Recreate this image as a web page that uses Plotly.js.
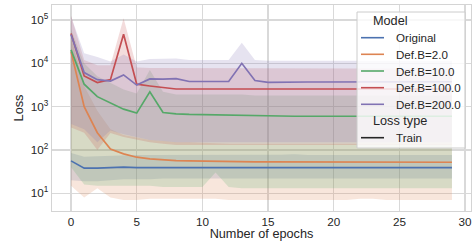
<!DOCTYPE html>
<html><head><meta charset="utf-8">
<script src="https://cdn.plot.ly/plotly-3.0.1.min.js"></script>
<style>html,body{margin:0;padding:0;background:#fff}#chart{width:472px;height:241px}#edge{position:absolute;left:440px;top:60px;width:32px;height:20px;background:rgba(255,255,255,0);pointer-events:none}</style>
</head><body><div id="chart"></div><div id="edge"></div>
<script>
const epochs = [0,1,2,3,4,5,6,7,8,9,10,11,12,13,14,15,16,17,18,19,20,21,22,23,24,25,26,27,28,29];
const seriesNames = ['Original','Def.B=2.0','Def.B=10.0','Def.B=100.0','Def.B=200.0'];
const colors = ['#4c72b0','#dd8452','#55a868','#c44e52','#8172b3'];
const bandColors = ['rgba(76,114,176,0.2)','rgba(221,132,82,0.2)','rgba(85,168,104,0.2)','rgba(196,78,82,0.2)','rgba(129,114,179,0.2)'];

const original    = [56,38,38,39,40,39,39,39,39,39,40,40,39,39,39,39,39,39,39,39,39,39,39,39,39,39,39,39,39,39];
const originalLo  = [20,19,19,20,21,21,21,22,22,22,22,22,22,22,22,22,22,22,22,22,22,22,22,22,22,22,22,22,22,22];
const originalHi  = [85,70,72,74,76,76,76,76,76,76,78,76,76,76,76,76,78,80,76,76,76,76,76,76,78,76,76,76,76,76];

const defB2   = [18600,1000,250,105,81,68,62,59,57,56,55,55,54,54,53,53,53,53,52,52,52,52,52,52,52,52,52,52,52,52];
const defB2Lo = [15,8,13,8,7,7,7.5,7.5,7.5,7.5,7.5,7.5,7,7,7,7,7,7,7,7,7,7,7.5,7.5,7,7,7,7,7,7];
const defB2Hi = [40000,3000,800,300,220,190,170,160,150,150,145,145,140,140,140,140,140,140,140,140,140,140,140,140,140,140,140,140,140,140];

const defB10   = [20400,3290,1700,1200,875,710,2200,730,680,660,650,650,645,640,620,610,605,600,600,600,600,600,600,600,600,600,600,600,600,600];
const defB10Lo = [40,16,15,15,15,15,15,14,14,14,14,30,14,13,13,13,13,13,13,13,13,13,13,13,13,13,13,13,13,13];
const defB10Hi = [60000,10000,5000,3500,2500,2000,7000,2200,1900,1900,1900,1900,1900,1900,1800,1800,1800,1800,1800,1800,1800,1800,1800,1800,1800,1800,1800,1800,1800,1800];

const defB100   = [49000,5100,3600,4200,47000,3300,3000,2750,2550,2550,2550,2550,2550,2550,2550,2550,2550,2550,2550,2550,2550,2550,2550,2550,2550,2550,2550,2550,2550,2550];
const defB100Lo = [330,250,100,245,200,170,150,140,130,130,130,130,130,130,130,130,130,130,130,130,130,130,130,130,130,130,130,130,130,130];
const defB100Hi = [125000,12000,9000,9000,110000,8000,7800,7800,7600,7500,7500,7500,7500,7500,7500,7500,7500,7500,7500,7500,7500,7500,7500,7500,7500,7500,7500,7500,7500,7500];

const defB200   = [46000,6100,4200,3900,5400,3150,4350,4300,4450,3800,3800,3800,3800,10000,4000,3650,3700,3700,3700,3700,3700,3700,3700,3700,3750,3750,3750,3750,3750,3750];
const defB200Lo = [400,300,150,280,230,200,170,160,150,150,150,150,150,150,150,150,150,150,150,150,150,150,150,150,150,150,150,150,150,150];
const defB200Hi = [120000,17000,14000,11000,16000,11000,12500,12500,13000,12000,12000,12000,12000,30000,12000,11500,11500,11500,11500,11500,11500,11500,11500,11500,11500,11500,11500,11500,11500,11500];

const xTickVals = [0,5,10,15,20,25,30];
const yTickVals = [10,100,1000,10000,100000];
const yTickText = ['10<sup>1</sup>','10<sup>2</sup>','10<sup>3</sup>','10<sup>4</sup>','10<sup>5</sup>'];
const legendTitles = ['Model','Loss type'];
const lossTypes = ['Train'];

const means = [original, defB2, defB10, defB100, defB200];
const lows  = [originalLo, defB2Lo, defB10Lo, defB100Lo, defB200Lo];
const highs = [originalHi, defB2Hi, defB10Hi, defB100Hi, defB200Hi];

const traces = [];
for (let i = 0; i < seriesNames.length; i++) {
  traces.push({x: epochs, y: highs[i], type: 'scatter', mode: 'lines', line: {width: 0, color: colors[i]}, showlegend: false, hoverinfo: 'skip'});
  traces.push({x: epochs, y: lows[i], type: 'scatter', mode: 'lines', line: {width: 0, color: colors[i]}, fill: 'tonexty', fillcolor: bandColors[i], showlegend: false, hoverinfo: 'skip'});
}
for (let i = 0; i < seriesNames.length; i++) {
  traces.push({x: epochs, y: means[i], type: 'scatter', mode: 'lines', name: seriesNames[i], line: {width: 1.7, color: colors[i]}, showlegend: false});
}

// Legend drawn in pixel layout converted to paper coordinates
const L = 52, R = 471, T = 5, B = 211;
const px = v => (v - L) / (R - L);
const py = v => (B - v) / (B - T);
const rowY = [21, 37.7, 54.3, 71, 87.7, 104.3, 121, 137.7];
const textColor = '#262626';
const fam = 'Liberation Sans, Arial, sans-serif';

const shapes = [{type: 'rect', xref: 'paper', yref: 'paper', x0: px(357), x1: px(465), y0: py(148), y1: py(12),
  fillcolor: 'rgba(255,255,255,0.8)', line: {color: '#cccccc', width: 1}, layer: 'above'}];
const annotations = [];
annotations.push({xref: 'paper', yref: 'paper', x: px(371), y: py(rowY[0]), xanchor: 'left', yanchor: 'middle', showarrow: false, text: legendTitles[0], font: {family: fam, size: 12.7, color: textColor}});
for (let i = 0; i < seriesNames.length; i++) {
  shapes.push({type: 'line', xref: 'paper', yref: 'paper', x0: px(361), x1: px(384), y0: py(rowY[i+1]), y1: py(rowY[i+1]), line: {color: colors[i], width: 1.6}, layer: 'above'});
  annotations.push({xref: 'paper', yref: 'paper', x: px(394), y: py(rowY[i+1]), xanchor: 'left', yanchor: 'middle', showarrow: false, text: seriesNames[i], font: {family: fam, size: 11.6, color: textColor}});
}
annotations.push({xref: 'paper', yref: 'paper', x: px(371), y: py(rowY[6]), xanchor: 'left', yanchor: 'middle', showarrow: false, text: legendTitles[1], font: {family: fam, size: 12.7, color: textColor}});
shapes.push({type: 'line', xref: 'paper', yref: 'paper', x0: px(361), x1: px(384), y0: py(rowY[7]), y1: py(rowY[7]), line: {color: '#262626', width: 1.6}, layer: 'above'});
annotations.push({xref: 'paper', yref: 'paper', x: px(394), y: py(rowY[7]), xanchor: 'left', yanchor: 'middle', showarrow: false, text: lossTypes[0], font: {family: fam, size: 11.6, color: textColor}});

const layout = {
  width: 472, height: 241,
  margin: {l: L, r: 472 - R, t: T, b: 241 - B, pad: 0},
  paper_bgcolor: '#ffffff', plot_bgcolor: '#ffffff',
  font: {family: fam, size: 11.7, color: textColor},
  showlegend: false,
  xaxis: {range: [-1.45, 30.45], tickvals: xTickVals, showgrid: true, gridcolor: '#d9d9d9', gridwidth: 1.3,
    zeroline: false, showline: true, mirror: true, linecolor: '#d4d4d4', linewidth: 1.3, ticks: '',
    ticklabeloverflow: 'allow',
    tickfont: {size: 11.7, color: textColor},
    title: {text: 'Number of epochs', font: {size: 12.7, color: textColor}, standoff: 2}},
  yaxis: {type: 'log', range: [0.591, 5.346], tickvals: yTickVals, ticktext: yTickText, showgrid: true, gridcolor: '#d9d9d9', gridwidth: 1.3,
    zeroline: false, showline: true, mirror: true, linecolor: '#d4d4d4', linewidth: 1.3, ticks: '',
    tickfont: {size: 11.7, color: textColor},
    title: {text: 'Loss', font: {size: 12.7, color: textColor}, standoff: 4}},
  shapes: shapes,
  annotations: annotations
};

Plotly.newPlot('chart', traces, layout, {displayModeBar: false, staticPlot: true});
</script>
</body></html>
